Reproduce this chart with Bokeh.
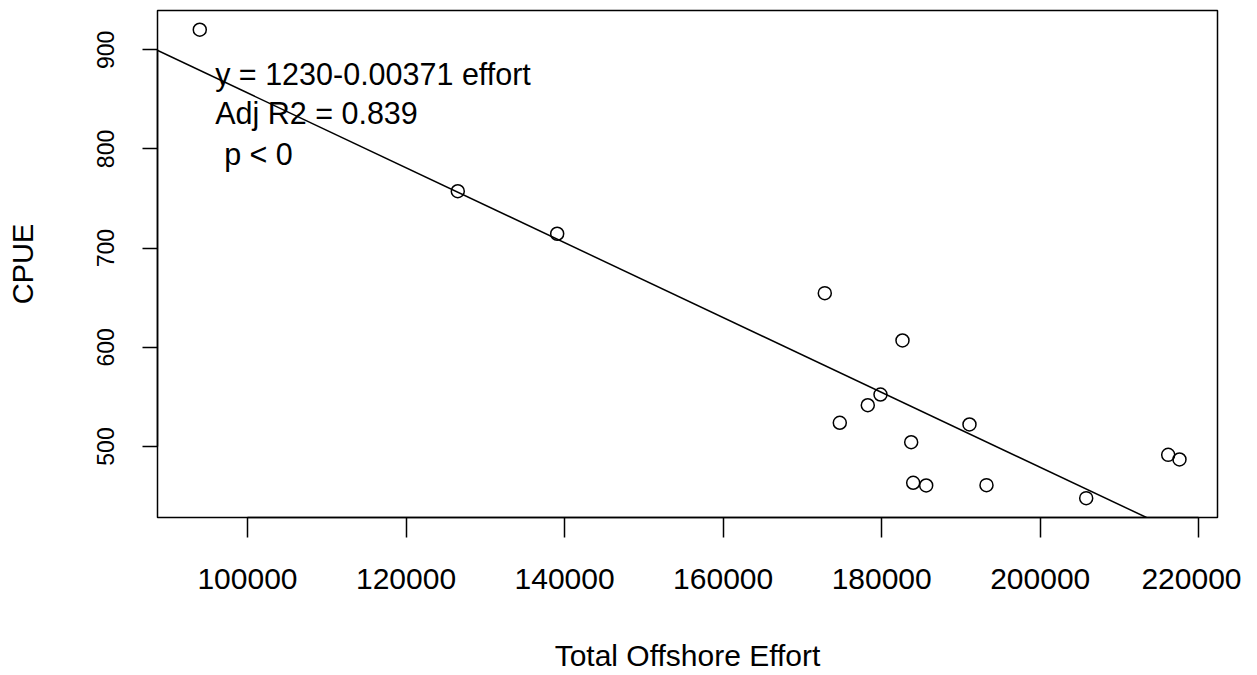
from bokeh.plotting import figure
from bokeh.models import Range1d, FixedTicker, Slope, Label
from bokeh.embed import file_html
from bokeh.resources import INLINE

# ---- data ----
effort = [93983, 126528, 139067, 172823, 182624, 179849, 178247, 174715,
          191075, 183721, 183973, 185613, 193220, 205797, 216140, 217565]
cpue = [920.2, 757.4, 714.5, 654.6, 606.9, 552.4, 541.6, 523.9,
        522.2, 504.3, 463.4, 460.7, 461.0, 447.9, 491.6, 486.9]

fit_intercept = 1234.0
fit_slope = -0.003775

x_ticks = [100000, 120000, 140000, 160000, 180000, 200000, 220000]
x_tick_labels = ["100000", "120000", "140000", "160000", "180000", "200000", "220000"]
y_ticks = [500, 600, 700, 800, 900]
y_tick_labels = ["500", "600", "700", "800", "900"]

annotation_lines = ["y = 1230-0.00371 effort", "Adj R2 = 0.839", "p < 0"]
x_title = "Total Offshore Effort"
y_title = "CPUE"

FONT = "Liberation Sans"

p = figure(width=1241, height=674, output_backend="svg", toolbar_location=None,
           x_range=Range1d(88650, 222360), y_range=Range1d(428.4, 939.6),
           min_border_left=157, min_border_right=24, min_border_top=10,
           min_border_bottom=157)

p.background_fill_color = "white"
p.border_fill_color = "white"
p.outline_line_color = "black"
p.outline_line_width = 1.5
p.xgrid.visible = False
p.ygrid.visible = False

# x axis
xa = p.xaxis[0]
xa.ticker = FixedTicker(ticks=x_ticks)
xa.major_label_overrides = {t: s for t, s in zip(x_ticks, x_tick_labels)}
xa.bounds = (x_ticks[0], x_ticks[-1])
xa.minor_tick_line_color = None
xa.major_tick_in = 0
xa.major_tick_out = 20
xa.major_tick_line_width = 1.5
xa.axis_line_width = 1.5
xa.major_label_text_font = FONT
xa.major_label_text_font_size = "30px"
xa.major_label_text_color = "black"
xa.major_label_standoff = 31
xa.axis_label = x_title
xa.axis_label_text_font = FONT
xa.axis_label_text_font_size = "30px"
xa.axis_label_text_font_style = "normal"
xa.axis_label_text_color = "black"
xa.axis_label_standoff = 47

# y axis
ya = p.yaxis[0]
ya.ticker = FixedTicker(ticks=y_ticks)
ya.major_label_overrides = {t: s for t, s in zip(y_ticks, y_tick_labels)}
ya.bounds = (y_ticks[0], y_ticks[-1])
ya.minor_tick_line_color = None
ya.major_tick_in = 0
ya.major_tick_out = 15
ya.major_tick_line_width = 1.5
ya.axis_line_width = 1.5
ya.major_label_orientation = "vertical"
ya.major_label_text_font = FONT
ya.major_label_text_font_size = "23px"
ya.major_label_text_color = "black"
ya.major_label_standoff = 28
ya.axis_label = y_title
ya.axis_label_text_font = FONT
ya.axis_label_text_font_size = "29px"
ya.axis_label_text_font_style = "normal"
ya.axis_label_text_color = "black"
ya.axis_label_standoff = 56

# points
p.scatter(effort, cpue, marker="circle", size=13, fill_color=None,
          line_color="black", line_width=1.5)

# regression line
p.add_layout(Slope(gradient=fit_slope, y_intercept=fit_intercept,
                   line_color="black", line_width=1.5))

# annotation text
ann_y = [875.1, 836.1, 795.1]
ann_dx = [0, 0, 9]
for txt, yy, dx in zip(annotation_lines, ann_y, ann_dx):
    p.add_layout(Label(x=95922, y=yy, x_offset=dx, text=txt,
                       text_font=FONT, text_font_size="30.5px",
                       text_color="black", text_align="left",
                       text_baseline="middle"))

open("out.html", "w").write(file_html(p, INLINE))
